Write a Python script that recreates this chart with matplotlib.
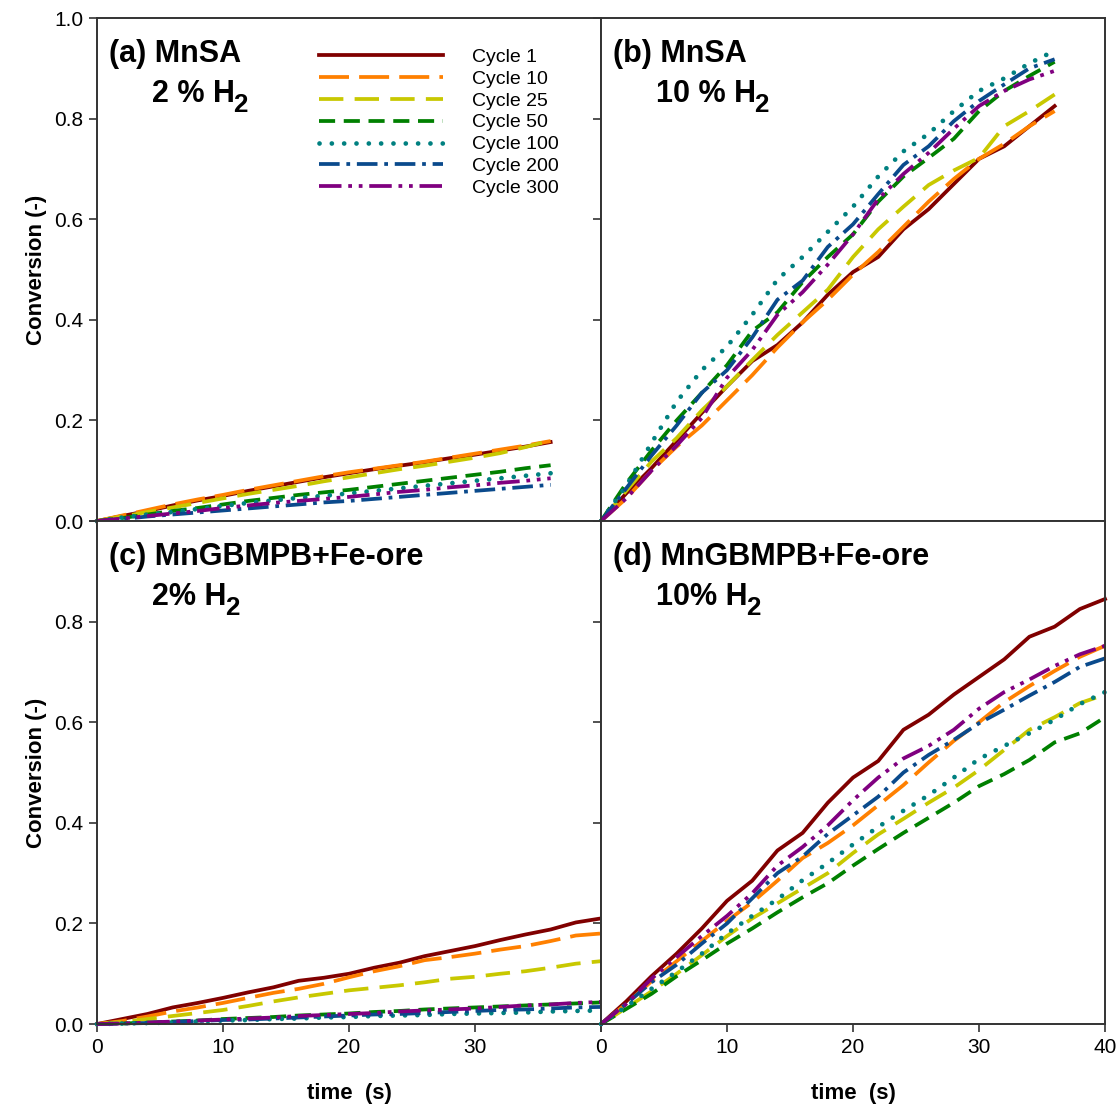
"""
Conversion vs time for MnSA and MnGBMPB+Fe-ore at 2 % and 10 % H2, several cycles.
Four panels sharing axes, saved as out.png.
"""

import matplotlib
matplotlib.use("Agg")
import matplotlib.pyplot as plt
from matplotlib.transforms import offset_copy

plt.rcParams["font.family"] = ["Liberation Sans", "DejaVu Sans"]

# ── Data ──────────────────────────────────────────────────────────────────────

cycles = ["Cycle 1", "Cycle 10", "Cycle 25", "Cycle 50",
          "Cycle 100", "Cycle 200", "Cycle 300"]

t_top = [0, 2, 4, 6, 8, 10, 12, 14, 16, 18, 20, 22, 24, 26, 28, 30, 32, 34, 36]
t_bot = [0, 2, 4, 6, 8, 10, 12, 14, 16, 18, 20, 22, 24, 26, 28, 30, 32, 34, 36, 38, 40]

# (a) MnSA, 2 % H2
a_c1   = [0, 0.010, 0.020, 0.031, 0.041, 0.050, 0.060, 0.069, 0.078, 0.087,
          0.095, 0.103, 0.110, 0.117, 0.125, 0.132, 0.140, 0.148, 0.157]
a_c10  = [0, 0.011, 0.022, 0.033, 0.043, 0.052, 0.062, 0.071, 0.080, 0.089,
          0.097, 0.104, 0.111, 0.118, 0.126, 0.134, 0.142, 0.150, 0.159]
a_c25  = [0, 0.009, 0.018, 0.027, 0.036, 0.045, 0.054, 0.062, 0.070, 0.079,
          0.087, 0.095, 0.103, 0.110, 0.118, 0.126, 0.135, 0.147, 0.160]
a_c50  = [0, 0.006, 0.013, 0.020, 0.026, 0.033, 0.040, 0.046, 0.052, 0.057,
          0.062, 0.068, 0.074, 0.080, 0.086, 0.092, 0.098, 0.105, 0.111]
a_c100 = [0, 0.007, 0.013, 0.018, 0.024, 0.030, 0.036, 0.041, 0.046, 0.050,
          0.055, 0.060, 0.065, 0.070, 0.075, 0.080, 0.085, 0.090, 0.095]
a_c200 = [0, 0.004, 0.009, 0.013, 0.017, 0.021, 0.025, 0.029, 0.033, 0.037,
          0.040, 0.044, 0.048, 0.052, 0.056, 0.060, 0.064, 0.068, 0.072]
a_c300 = [0, 0.005, 0.010, 0.015, 0.020, 0.026, 0.031, 0.036, 0.040, 0.044,
          0.048, 0.053, 0.058, 0.062, 0.067, 0.071, 0.076, 0.080, 0.085]

# (b) MnSA, 10 % H2
b_c1   = [0, 0.055, 0.105, 0.160, 0.215, 0.268, 0.318, 0.350, 0.395, 0.450,
          0.495, 0.525, 0.580, 0.620, 0.670, 0.720, 0.745, 0.785, 0.825]
b_c10  = [0, 0.045, 0.100, 0.148, 0.190, 0.240, 0.290, 0.345, 0.395, 0.440,
          0.490, 0.535, 0.585, 0.635, 0.680, 0.720, 0.750, 0.785, 0.815]
b_c25  = [0, 0.060, 0.118, 0.165, 0.220, 0.268, 0.320, 0.370, 0.415, 0.460,
          0.525, 0.580, 0.625, 0.668, 0.697, 0.722, 0.785, 0.815, 0.848]
b_c50  = [0, 0.075, 0.140, 0.200, 0.255, 0.310, 0.378, 0.415, 0.475, 0.525,
          0.570, 0.635, 0.685, 0.722, 0.760, 0.815, 0.855, 0.885, 0.913]
b_c100 = [0, 0.070, 0.155, 0.237, 0.300, 0.347, 0.410, 0.480, 0.525, 0.575,
          0.625, 0.685, 0.735, 0.770, 0.815, 0.855, 0.880, 0.910, 0.935]
b_c200 = [0, 0.065, 0.130, 0.190, 0.255, 0.300, 0.365, 0.440, 0.478, 0.545,
          0.590, 0.650, 0.708, 0.745, 0.795, 0.835, 0.868, 0.900, 0.918]
b_c300 = [0, 0.045, 0.100, 0.150, 0.205, 0.285, 0.340, 0.410, 0.455, 0.510,
          0.570, 0.640, 0.690, 0.732, 0.780, 0.825, 0.855, 0.878, 0.895]

# (c) MnGBMPB+Fe-ore, 2 % H2
c_c1   = [0, 0.010, 0.020, 0.033, 0.042, 0.052, 0.063, 0.073, 0.086, 0.092, 0.100,
          0.112, 0.122, 0.135, 0.145, 0.155, 0.167, 0.178, 0.188, 0.202, 0.210]
c_c10  = [0, 0.006, 0.015, 0.025, 0.033, 0.042, 0.052, 0.062, 0.070, 0.080, 0.093,
          0.105, 0.115, 0.127, 0.133, 0.140, 0.148, 0.155, 0.165, 0.176, 0.180]
c_c25  = [0, 0.004, 0.010, 0.016, 0.022, 0.028, 0.036, 0.045, 0.053, 0.060, 0.067,
          0.072, 0.077, 0.083, 0.090, 0.094, 0.100, 0.105, 0.112, 0.120, 0.125]
c_c50  = [0, 0.001, 0.003, 0.005, 0.007, 0.010, 0.012, 0.014, 0.017, 0.019, 0.021,
          0.024, 0.026, 0.029, 0.031, 0.033, 0.035, 0.037, 0.039, 0.041, 0.043]
c_c100 = [0, 0.001, 0.002, 0.003, 0.005, 0.007, 0.008, 0.010, 0.011, 0.013, 0.014,
          0.016, 0.017, 0.018, 0.020, 0.021, 0.022, 0.023, 0.025, 0.026, 0.027]
c_c200 = [0, 0.001, 0.002, 0.004, 0.006, 0.008, 0.009, 0.011, 0.013, 0.015, 0.017,
          0.019, 0.020, 0.022, 0.024, 0.026, 0.028, 0.029, 0.031, 0.033, 0.034]
c_c300 = [0, 0.001, 0.003, 0.005, 0.007, 0.009, 0.011, 0.013, 0.016, 0.018, 0.020,
          0.022, 0.025, 0.027, 0.029, 0.031, 0.034, 0.037, 0.039, 0.042, 0.044]

# (d) MnGBMPB+Fe-ore, 10 % H2
d_c1   = [0, 0.045, 0.095, 0.140, 0.190, 0.245, 0.285, 0.345, 0.380, 0.440, 0.490,
          0.523, 0.585, 0.615, 0.655, 0.690, 0.725, 0.770, 0.790, 0.825, 0.845]
d_c10  = [0, 0.040, 0.085, 0.125, 0.165, 0.205, 0.242, 0.285, 0.330, 0.360, 0.395,
          0.435, 0.475, 0.520, 0.563, 0.600, 0.640, 0.672, 0.702, 0.730, 0.752]
d_c25  = [0, 0.032, 0.065, 0.100, 0.137, 0.175, 0.210, 0.240, 0.270, 0.300, 0.340,
          0.377, 0.408, 0.440, 0.470, 0.505, 0.545, 0.585, 0.610, 0.638, 0.655]
d_c50  = [0, 0.030, 0.060, 0.095, 0.127, 0.160, 0.190, 0.222, 0.252, 0.280, 0.315,
          0.348, 0.380, 0.410, 0.440, 0.473, 0.497, 0.525, 0.560, 0.578, 0.610]
d_c100 = [0, 0.035, 0.070, 0.104, 0.140, 0.180, 0.215, 0.248, 0.286, 0.320, 0.357,
          0.392, 0.424, 0.455, 0.490, 0.527, 0.553, 0.578, 0.605, 0.636, 0.660]
d_c200 = [0, 0.040, 0.083, 0.118, 0.160, 0.200, 0.250, 0.300, 0.333, 0.378, 0.415,
          0.452, 0.500, 0.535, 0.565, 0.598, 0.625, 0.653, 0.680, 0.710, 0.727]
d_c300 = [0, 0.040, 0.090, 0.133, 0.175, 0.215, 0.260, 0.315, 0.352, 0.395, 0.445,
          0.490, 0.528, 0.553, 0.585, 0.627, 0.660, 0.685, 0.712, 0.735, 0.752]

# ── Styles ────────────────────────────────────────────────────────────────────

colors = ["#800000", "#FF8000", "#C8C800", "#008000",
          "#008080", "#0A4A8C", "#800080"]
styles = ["-", (0, (8, 2.7)), (0, (6.5, 3)), (0, (4.3, 2.3)),
          (0, (0.01, 2.6)), (0, (5.5, 1.8, 1, 1.8)),
          (0, (6, 1.8, 1, 1.8, 1, 1.8))]

TITLE_SIZE = 22


def plot_panel(ax, t, series, title, sub):
    for y, lab, col, ls in zip(series, cycles, colors, styles):
        dotted = lab == "Cycle 100"
        ax.plot(t, y, color=col, linestyle=ls, linewidth=3.4 if dotted else 2.7,
                dash_capstyle="round" if dotted else "butt",
                label=lab, clip_on=False)
    ax.set_xlim(0, 40)
    ax.set_ylim(0, 1.0)
    ax.set_xticks([0, 10, 20, 30, 40])
    ax.set_yticks([0, 0.2, 0.4, 0.6, 0.8, 1.0])
    ax.tick_params(direction="out", length=6, width=1.2, labelsize=15,
                   color="#333333", pad=4)
    for sp in ax.spines.values():
        sp.set_linewidth(1.4)
        sp.set_color("#333333")
    ax.text(0.024, 0.912, title, transform=ax.transAxes,
            fontsize=TITLE_SIZE, fontweight="bold", va="baseline")
    # "x % H" with a large, lowered subscript "2" added later
    main = ax.text(0.11, 0.833, sub, transform=ax.transAxes,
                   fontsize=TITLE_SIZE, fontweight="bold", va="baseline")
    return main


fig = plt.figure(figsize=(11.18, 11.06), dpi=100)
fig.subplots_adjust(left=0.0868, right=0.9884, top=0.9837, bottom=0.0741,
                    wspace=0, hspace=0)
axs = fig.subplots(2, 2)
ax_a, ax_b = axs[0]
ax_c, ax_d = axs[1]

subs = []
subs.append((ax_a, plot_panel(ax_a, t_top,
            [a_c1, a_c10, a_c25, a_c50, a_c100, a_c200, a_c300],
            "(a) MnSA", "2 % H")))
subs.append((ax_b, plot_panel(ax_b, t_top,
            [b_c1, b_c10, b_c25, b_c50, b_c100, b_c200, b_c300],
            "(b) MnSA", "10 % H")))
subs.append((ax_c, plot_panel(ax_c, t_bot,
            [c_c1, c_c10, c_c25, c_c50, c_c100, c_c200, c_c300],
            "(c) MnGBMPB+Fe-ore", "2% H")))
subs.append((ax_d, plot_panel(ax_d, t_bot,
            [d_c1, d_c10, d_c25, d_c50, d_c100, d_c200, d_c300],
            "(d) MnGBMPB+Fe-ore", "10% H")))

# tick labels only on the outer edges
ax_a.set_xticklabels([])
ax_b.set_xticklabels([])
ax_b.set_yticklabels([])
ax_d.set_yticklabels([])
ax_a.set_yticklabels(["0.0", "0.2", "0.4", "0.6", "0.8", "1.0"])
ax_c.set_yticklabels(["0.0", "0.2", "0.4", "0.6", "0.8", ""])
ax_c.set_xticklabels(["0", "10", "20", "30", ""])
ax_d.set_xticklabels(["0", "10", "20", "30", "40"])

for ax in (ax_a, ax_c):
    ax.set_ylabel("Conversion (-)", fontsize=16, fontweight="bold", labelpad=5)
for ax in (ax_c, ax_d):
    ax.set_xlabel("time  (s)", fontsize=16, fontweight="bold", labelpad=19)

ax_a.legend(loc="upper left", bbox_to_anchor=(0.44, 0.94), frameon=False,
            fontsize=14, handlelength=6.4, handletextpad=1.5,
            labelspacing=0.22, borderpad=0, borderaxespad=0)

# place the subscript 2 right after each "H"
fig.canvas.draw()
renderer = fig.canvas.get_renderer()
for ax, txt in subs:
    bb = txt.get_window_extent(renderer)
    x_ax, _ = ax.transAxes.inverted().transform((bb.x1 - 2, bb.y0))
    tr = offset_copy(ax.transAxes, fig=fig, x=0, y=-10, units="dots")
    ax.text(x_ax, 0.833, "2", transform=tr, fontsize=TITLE_SIZE * 0.85,
            fontweight="bold", va="baseline")

plt.savefig("out.png", dpi=100)
